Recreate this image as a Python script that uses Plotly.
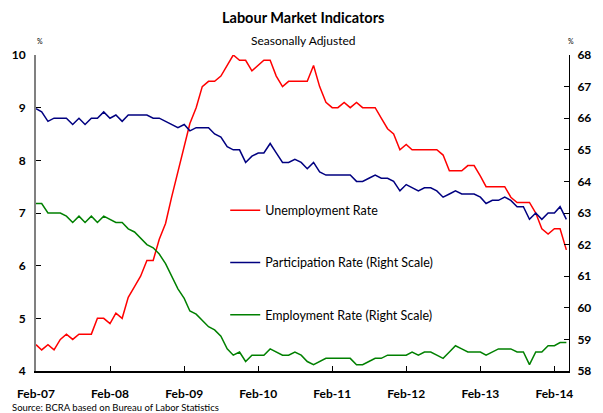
import plotly.graph_objects as go
import pandas as pd

# Monthly data, Feb-2007 .. Apr-2014
months = pd.date_range("2007-02-01", "2014-04-01", freq="MS")

unemployment = [
    4.5, 4.4, 4.5, 4.4, 4.6, 4.7, 4.6, 4.7, 4.7, 4.7, 5.0,            # 2007 Feb-Dec
    5.0, 4.9, 5.1, 5.0, 5.4, 5.6, 5.8, 6.1, 6.1, 6.5, 6.8, 7.3,       # 2008
    7.8, 8.3, 8.7, 9.0, 9.4, 9.5, 9.5, 9.6, 9.8, 10.0, 9.9, 9.9,      # 2009
    9.7, 9.8, 9.9, 9.9, 9.6, 9.4, 9.5, 9.5, 9.5, 9.5, 9.8, 9.4,       # 2010
    9.1, 9.0, 9.0, 9.1, 9.0, 9.1, 9.0, 9.0, 9.0, 8.8, 8.6, 8.5,       # 2011
    8.2, 8.3, 8.2, 8.2, 8.2, 8.2, 8.2, 8.1, 7.8, 7.8, 7.8, 7.9,       # 2012
    7.9, 7.7, 7.5, 7.5, 7.5, 7.5, 7.3, 7.2, 7.2, 7.2, 7.0, 6.7,       # 2013
    6.6, 6.7, 6.7, 6.3,                                               # 2014 Jan-Apr
]

participation = [
    66.3, 66.2, 65.9, 66.0, 66.0, 66.0, 65.8, 66.0, 65.8, 66.0, 66.0,
    66.2, 66.0, 66.1, 65.9, 66.1, 66.1, 66.1, 66.1, 66.0, 66.0, 65.9, 65.8,
    65.7, 65.8, 65.6, 65.7, 65.7, 65.7, 65.5, 65.4, 65.1, 65.0, 65.0, 64.6,
    64.8, 64.9, 64.9, 65.2, 64.9, 64.6, 64.6, 64.7, 64.6, 64.4, 64.6, 64.3,
    64.2, 64.2, 64.2, 64.2, 64.2, 64.0, 64.0, 64.1, 64.2, 64.1, 64.1, 64.0,
    63.7, 63.9, 63.8, 63.7, 63.8, 63.8, 63.7, 63.5, 63.6, 63.7, 63.6, 63.6,
    63.6, 63.5, 63.3, 63.4, 63.4, 63.5, 63.4, 63.2, 63.2, 62.8, 63.0, 62.8,
    63.0, 63.0, 63.2, 62.8,
]

employment = [
    63.3, 63.3, 63.0, 63.0, 63.0, 62.9, 62.7, 62.9, 62.7, 62.9, 62.7,
    62.9, 62.8, 62.7, 62.7, 62.5, 62.4, 62.2, 62.0, 61.9, 61.7, 61.4, 61.0,
    60.6, 60.3, 59.9, 59.8, 59.6, 59.4, 59.3, 59.1, 58.7, 58.5, 58.6, 58.3,
    58.5, 58.5, 58.5, 58.7, 58.6, 58.5, 58.5, 58.6, 58.5, 58.3, 58.2, 58.3,
    58.4, 58.4, 58.4, 58.4, 58.4, 58.2, 58.2, 58.3, 58.4, 58.4, 58.5, 58.5,
    58.5, 58.5, 58.6, 58.5, 58.6, 58.6, 58.5, 58.4, 58.6, 58.8, 58.7, 58.6,
    58.6, 58.6, 58.5, 58.6, 58.7, 58.7, 58.7, 58.6, 58.6, 58.2, 58.6, 58.6,
    58.8, 58.8, 58.9, 58.9,
]

tick_dates = pd.date_range("2007-02-01", "2014-02-01", freq="12MS")
tick_labels = ["Feb-07", "Feb-08", "Feb-09", "Feb-10", "Feb-11", "Feb-12", "Feb-13", "Feb-14"]

left_ticks = [4, 5, 6, 7, 8, 9, 10]
right_ticks = [58, 59, 60, 61, 62, 63, 64, 65, 66, 67, 68]

FONT = "Lato, 'Open Sans', sans-serif"

fig = go.Figure()

fig.add_trace(go.Scatter(
    x=months, y=participation, mode="lines", name="Participation Rate (Right Scale)",
    line=dict(color="#000080", width=1.5), yaxis="y2",
    legendgroup="b", legendrank=2,
))
fig.add_trace(go.Scatter(
    x=months, y=employment, mode="lines", name="Employment Rate (Right Scale)",
    line=dict(color="#008000", width=1.5), yaxis="y2",
    legendgroup="c", legendrank=3,
))
fig.add_trace(go.Scatter(
    x=months, y=unemployment, mode="lines", name="Unemployment Rate",
    line=dict(color="#FF0000", width=1.5),
    legendgroup="a", legendrank=1,
))

fig.update_layout(
    width=603, height=413, autosize=False,
    margin=dict(l=31, r=23, t=55, b=42),
    paper_bgcolor="white", plot_bgcolor="white",
    font=dict(family=FONT, color="black"),
    showlegend=True,
    legend=dict(
        x=0.355, y=0.555, xanchor="left", yanchor="top",
        bgcolor="rgba(0,0,0,0)", borderwidth=0,
        font=dict(size=12.5, family=FONT),
        tracegroupgap=33, itemwidth=30,
        traceorder="grouped",
    ),
    xaxis=dict(
        type="date",
        range=["2007-02-01", "2014-04-14"],
        tickvals=list(tick_dates), ticktext=tick_labels,
        ticks="inside", ticklen=5, tickcolor="black", tickwidth=1,
        showline=True, linecolor="black", linewidth=1.5,
        showgrid=False, zeroline=False,
        tickfont=dict(size=12, family=FONT, weight="bold"),
        ticklabelstandoff=11,
    ),
    yaxis=dict(
        range=[4, 10], tickvals=left_ticks,
        ticks="inside", ticklen=5, tickcolor="black", tickwidth=1,
        showline=True, linecolor="#808080", linewidth=2,
        showgrid=False, zeroline=False,
        tickfont=dict(size=12, family=FONT, weight="bold"),
        ticklabelstandoff=6,
    ),
    yaxis2=dict(
        range=[58, 68], tickvals=right_ticks,
        overlaying="y", side="right",
        ticks="inside", ticklen=5, tickcolor="black", tickwidth=1,
        showline=True, linecolor="black", linewidth=1,
        showgrid=False, zeroline=False,
        tickfont=dict(size=12, family=FONT, weight="bold"),
        ticklabelstandoff=5,
    ),
    annotations=[
        dict(text="<b>Labour Market Indicators</b>", xref="paper", yref="paper",
             x=0.5, y=1.118, xanchor="center", yanchor="middle", showarrow=False,
             font=dict(size=14.5, family=FONT)),
        dict(text="Seasonally Adjusted", xref="paper", yref="paper",
             x=0.5, y=1.047, xanchor="center", yanchor="middle", showarrow=False,
             font=dict(size=12, family=FONT)),
        dict(text="%", xref="paper", yref="paper",
             x=0.007, y=1.045, xanchor="center", yanchor="middle", showarrow=False,
             font=dict(size=7, family=FONT)),
        dict(text="%", xref="paper", yref="paper",
             x=1.004, y=1.045, xanchor="center", yanchor="middle", showarrow=False,
             font=dict(size=7, family=FONT)),
        dict(text="Source: BCRA based on Bureau of Labor Statistics", xref="paper", yref="paper",
             x=-0.049, y=-0.117, xanchor="left", yanchor="middle", showarrow=False,
             font=dict(size=9.5, family=FONT)),
    ],
)

fig.write_html("out.html", config={"displayModeBar": False},
               post_script="document.body.style.margin='0';")
